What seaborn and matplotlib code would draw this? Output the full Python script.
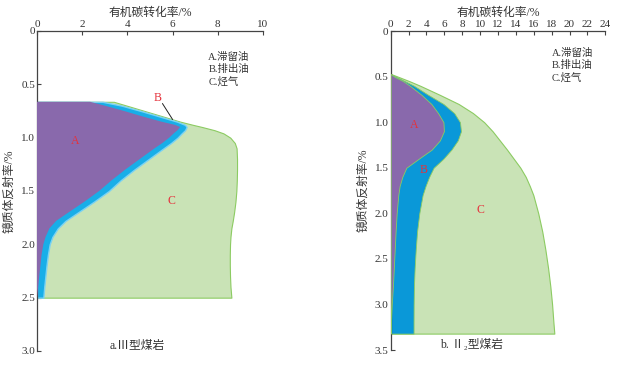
import matplotlib
matplotlib.use('Agg')
import matplotlib.pyplot as plt
import seaborn as sns
import numpy as np

sns.set_style('ticks')
FAM = ['Liberation Serif', 'Noto Sans CJK SC', 'DejaVu Sans']
plt.rcParams['font.family'] = FAM

# ---- panel a: type III coal ----
ro_a = [0.664, 0.70, 0.75, 0.80, 0.85, 0.88, 0.90, 0.93, 0.96, 1.00, 1.05, 1.10, 1.20,
        1.30, 1.40, 1.50, 1.60, 1.70, 1.78, 1.85, 1.93, 2.00, 2.10, 2.20, 2.30, 2.40, 2.50]
oil_a = [2.35, 3.00, 3.85, 4.65, 5.50, 6.10, 6.33, 6.22, 6.05, 5.85, 5.55, 5.20, 4.55,
         3.90, 3.30, 2.75, 2.10, 1.40, 0.85, 0.55, 0.38, 0.28, 0.20, 0.15, 0.10, 0.05, 0.0]
exp_a = [2.90, 3.75, 4.60, 5.40, 6.20, 6.55, 6.62, 6.55, 6.40, 6.22, 5.93, 5.60, 4.95,
         4.30, 3.70, 3.18, 2.52, 1.82, 1.26, 0.92, 0.68, 0.56, 0.48, 0.42, 0.37, 0.32, 0.28]
gas_a = [3.40, 3.97, 4.76, 5.55, 6.34, 6.90, 7.30, 7.85, 8.25, 8.55, 8.75, 8.83, 8.85,
         8.85, 8.84, 8.82, 8.78, 8.72, 8.66, 8.60, 8.56, 8.54, 8.53, 8.53, 8.54, 8.56, 8.60]

# ---- panel b: type II2 coal ----
ro_b = [0.47, 0.50, 0.55, 0.60, 0.70, 0.80, 0.90, 1.00, 1.10, 1.20, 1.30, 1.40,
        1.50, 1.60, 1.70, 1.80, 2.00, 2.20, 2.40, 2.60, 2.80, 3.00, 3.20, 3.32]
oil_b = [0.0, 0.4, 1.4, 2.15, 3.45, 4.55, 5.30, 5.90, 5.95, 5.50, 4.60, 3.15,
         1.75, 1.30, 1.00, 0.85, 0.67, 0.55, 0.45, 0.35, 0.25, 0.12, 0.03, 0.0]
exp_b = [0.0, 0.6, 1.6, 2.6, 4.2, 5.9, 7.1, 7.75, 7.86, 7.5, 6.8, 5.9,
         4.8, 4.3, 3.9, 3.57, 3.2, 2.95, 2.8, 2.68, 2.6, 2.57, 2.56, 2.56]
gas_b = [0.0, 0.8, 2.1, 3.3, 5.5, 7.6, 9.2, 10.45, 11.4, 12.2, 13.0, 13.75,
         14.5, 15.1, 15.55, 15.95, 16.5, 16.95, 17.3, 17.6, 17.85, 18.05, 18.2, 18.3]

legend_txt = 'A.滞留油\nB.排出油\nC.烃气'
xlabel = '有机碳转化率/%'
ylabel = '镜质体反射率/%'

PURPLE = '#8969AC'
GREEN = '#C9E3B6'
GEDGE = '#8CCB62'
RED = '#E5323C'
TXT = '#333333'

fig = plt.figure(figsize=(6.23, 3.67), dpi=100)
ax1 = fig.add_axes([0.0594, 0.0436, 0.3628, 0.872])
ax2 = fig.add_axes([0.6271, 0.0463, 0.3445, 0.869])


def style(ax, xmax, xstep, ymax):
    ax.set_xlim(0, xmax)
    ax.set_ylim(ymax, 0)
    ax.xaxis.tick_top()
    ax.xaxis.set_label_position('top')
    ax.set_xticks(np.arange(0, xmax + 0.1, xstep))
    yt = np.arange(0, ymax + 0.01, 0.5)
    ax.set_yticks(yt)
    ax.set_yticklabels(['0'] + [f'{v:.1f}' for v in yt[1:]])
    ax.tick_params(direction='in', length=3, width=0.8, colors='#444444',
                   labelsize=8, pad=1.5, labelcolor=TXT)
    for s in ['right', 'bottom']:
        ax.spines[s].set_visible(False)
    for s in ['left', 'top']:
        ax.spines[s].set_color('#444444')
        ax.spines[s].set_linewidth(0.9)
    ax.set_xlabel(xlabel, fontsize=8.5, color=TXT, labelpad=3)
    ax.set_ylabel(ylabel, fontsize=8.5, color=TXT, labelpad=4)
    ax.set_facecolor('none')


# panel a
ro = np.array(ro_a)
ax1.fill_betweenx(ro, 0, gas_a, facecolor=GREEN, edgecolor=GEDGE, linewidth=0.8, zorder=1)
ax1.fill_betweenx(ro, 0, exp_a, facecolor='#18AEE8', edgecolor='#7AD2F3', linewidth=1.0, zorder=2)
ax1.fill_betweenx(ro, 0, oil_a, facecolor=PURPLE, edgecolor='none', zorder=3)
style(ax1, 10, 2, 3.0)
ax1.text(7.58, 0.20, legend_txt, fontsize=7.5, color=TXT, va='top', linespacing=1.25)
ax1.text(1.68, 1.03, 'A', color=RED, fontsize=8.5, ha='center', va='center')
ax1.text(5.35, 0.63, 'B', color=RED, fontsize=8.5, ha='center', va='center')
ax1.plot([5.55, 6.0], [0.68, 0.83], color='#222222', lw=0.7)
ax1.text(5.96, 1.59, 'C', color=RED, fontsize=8.5, ha='center', va='center')
ax1.text(4.45, 2.95, 'a.Ⅲ型煤岩', fontsize=8.5, color=TXT, ha='center', va='center')

# panel b
ro = np.array(ro_b)
ax2.fill_betweenx(ro, 0, gas_b, facecolor=GREEN, edgecolor=GEDGE, linewidth=0.8, zorder=1)
ax2.fill_betweenx(ro, 0, exp_b, facecolor='#0A98D8', edgecolor=GEDGE, linewidth=0.6, zorder=2)
ax2.fill_betweenx(ro, 0, oil_b, facecolor=PURPLE, edgecolor=GEDGE, linewidth=0.6, zorder=3)
style(ax2, 24, 2, 3.5)
ax2.text(18.0, 0.19, legend_txt, fontsize=7.5, color=TXT, va='top', linespacing=1.25)
ax2.text(2.6, 1.03, 'A', color=RED, fontsize=8.5, ha='center', va='center')
ax2.text(3.7, 1.53, 'B', color=RED, fontsize=8.5, ha='center', va='center')
ax2.text(10.0, 1.96, 'C', color=RED, fontsize=8.5, ha='center', va='center')
ax2.text(9.05, 3.44, 'b. Ⅱ₂型煤岩', fontsize=8.5, color=TXT, ha='center', va='center')

fig.savefig('out.png', dpi=100)
